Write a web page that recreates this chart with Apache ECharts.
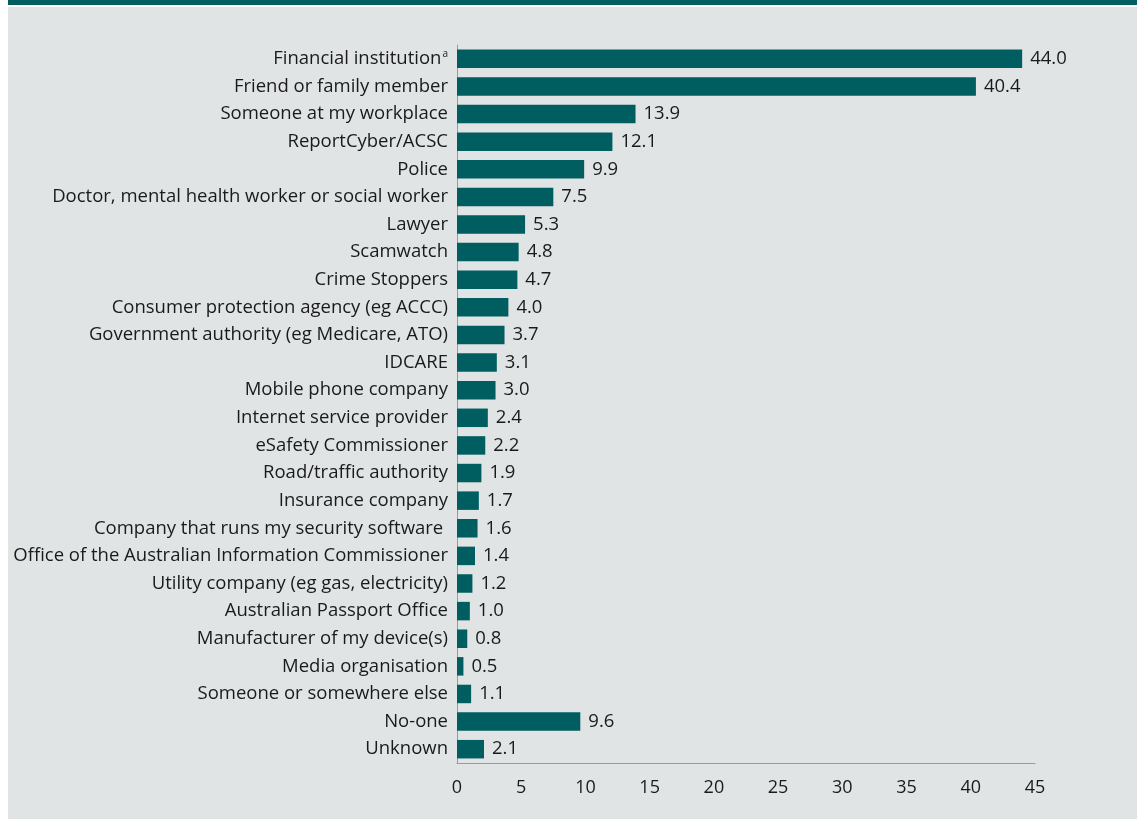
<!DOCTYPE html>
<html>
<head>
<meta charset="utf-8">
<script src="https://cdn.jsdelivr.net/npm/echarts@6/dist/echarts.min.js"></script>
<style>
  html, body { margin: 0; padding: 0; background: #ffffff; }
  #chart { width: 1137px; height: 819px; }
</style>
</head>
<body>
<div id="chart"></div>
<script>
// Where people sought help or reported the incident (per cent)
const categories = [
  'Financial institution',
  'Friend or family member',
  'Someone at my workplace',
  'ReportCyber/ACSC',
  'Police',
  'Doctor, mental health worker or social worker',
  'Lawyer',
  'Scamwatch',
  'Crime Stoppers',
  'Consumer protection agency (eg ACCC)',
  'Government authority (eg Medicare, ATO)',
  'IDCARE',
  'Mobile phone company',
  'Internet service provider',
  'eSafety Commissioner',
  'Road/traffic authority',
  'Insurance company',
  'Company that runs my security software ',
  'Office of the Australian Information Commissioner',
  'Utility company (eg gas, electricity)',
  'Australian Passport Office',
  'Manufacturer of my device(s)',
  'Media organisation',
  'Someone or somewhere else',
  'No-one',
  'Unknown'
];
const values = [44.0, 40.4, 13.9, 12.1, 9.9, 7.5, 5.3, 4.8, 4.7, 4.0, 3.7, 3.1, 3.0,
  2.4, 2.2, 1.9, 1.7, 1.6, 1.4, 1.2, 1.0, 0.8, 0.5, 1.1, 9.6, 2.1];
const xTicks = [0, 5, 10, 15, 20, 25, 30, 35, 40, 45];

const FONT = '"Open Sans", sans-serif';
const TEAL = '#005e60';
const PANEL = '#e1e4e5';

const chart = echarts.init(document.getElementById('chart'), null, { renderer: 'canvas' });

chart.setOption({
  backgroundColor: '#ffffff',
  animation: false,
  graphic: [
    { type: 'rect', z: -10, shape: { x: 8, y: 7, width: 1137, height: 819 }, style: { fill: PANEL } },
    { type: 'rect', z: -10, shape: { x: 8, y: 0, width: 1137, height: 5 }, style: { fill: TEAL } }
  ],
  grid: { left: 457, right: 102, top: 45, bottom: 56, containLabel: false },
  xAxis: {
    type: 'value',
    min: xTicks[0],
    max: xTicks[xTicks.length - 1],
    interval: 5,
    splitLine: { show: false },
    axisLine: { show: true, lineStyle: { color: '#9a9a9a', width: 1 } },
    axisTick: { show: false },
    axisLabel: { color: '#1a1a1a', fontFamily: FONT, fontSize: 18, margin: 16 }
  },
  yAxis: {
    type: 'category',
    inverse: true,
    data: categories,
    axisLine: { show: true, lineStyle: { color: '#9a9a9a', width: 1 } },
    axisTick: { show: false },
    axisLabel: {
      color: '#1a1a1a',
      fontFamily: FONT,
      fontSize: 18.5,
      margin: 9,
      formatter: function (v) {
        return v === 'Financial institution' ? v + '{sup|a}' : v;
      },
      rich: {
        sup: { fontFamily: FONT, fontSize: 10, color: '#1a1a1a', verticalAlign: 'top', padding: [0, 0, 9, 1] }
      }
    }
  },
  series: [{
    type: 'bar',
    data: values,
    barWidth: '67%',
    itemStyle: { color: TEAL },
    label: {
      show: true,
      position: 'right',
      distance: 8,
      color: '#1a1a1a',
      fontFamily: FONT,
      fontSize: 18.5,
      formatter: function (p) { return p.value.toFixed(1); }
    }
  }]
});
</script>
</body>
</html>
